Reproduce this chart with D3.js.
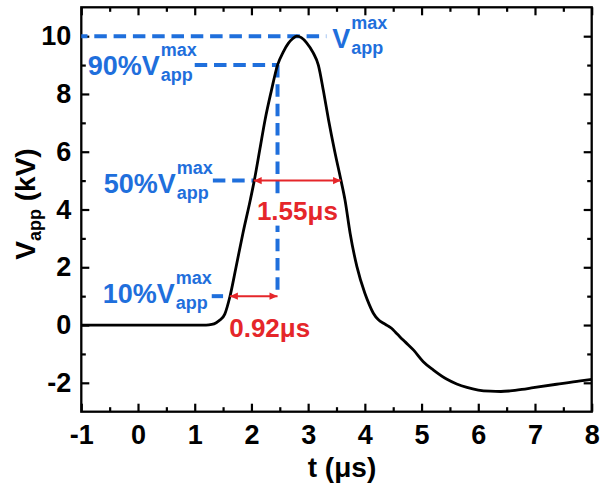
<!DOCTYPE html>
<html><head><meta charset="utf-8">
<script src="https://cdn.jsdelivr.net/npm/d3@7"></script>
<style>
body{margin:0;background:#fff}
svg{display:block}
text{font-family:"Liberation Sans",Arial,sans-serif;font-weight:bold}
</style>
</head><body><svg id="c" width="606" height="486"></svg>
<script>
// ---- data ----
const timeUs = [-1, 0, 1, 1.2, 1.30, 1.38, 1.45, 1.53, 1.62, 1.73, 1.85, 1.98, 2.05, 2.15, 2.24, 2.35, 2.46, 2.56, 2.65, 2.73, 2.80, 2.88, 2.97, 3.09, 3.18, 3.27, 3.36, 3.47, 3.58, 3.65, 3.74, 3.86, 4.00, 4.08, 4.15, 4.24, 4.33, 4.40, 4.47, 4.54, 4.62, 4.72, 4.86, 5.03, 5.21, 5.44, 5.62, 5.80, 6.00, 6.21, 6.40, 6.56, 6.77, 6.97, 7.38, 7.80, 8.0];
const voltageKV = [0, 0, 0, 0, 0.02, 0.08, 0.18, 0.38, 0.98, 2.02, 3.18, 4.33, 5.0, 6.1, 7.1, 8.1, 9.0, 9.45, 9.75, 9.92, 10.0, 9.95, 9.78, 9.42, 9.0, 8.1, 7.1, 6.0, 5.0, 4.33, 3.18, 2.02, 1.10, 0.70, 0.41, 0.18, 0.06, -0.02, -0.11, -0.25, -0.41, -0.6, -0.87, -1.27, -1.56, -1.87, -2.04, -2.16, -2.25, -2.29, -2.30, -2.28, -2.23, -2.17, -2.05, -1.93, -1.88];
const xTickValues = [-1, 0, 1, 2, 3, 4, 5, 6, 7, 8];
const xMinorValues = [-0.5, 0.5, 1.5, 2.5, 3.5, 4.5, 5.5, 6.5, 7.5];
const yTickValues = [-2, 0, 2, 4, 6, 8, 10];
const yMinorValues = [-1, 1, 3, 5, 7, 9];
const vMax = 10;
const levelPrefixes = ["90%", "50%", "10%"];
const levelFractions = [0.9, 0.5, 0.1];
const levelDashStart = [1.0, 1.32, 1.30];   // t where dashed guide begins
const levelDashEnd = [2.46, 2.03, 1.50];     // t where dashed guide ends
const t10 = 1.62, t90 = 2.46, t50a = 2.04, t50b = 3.58;
const spanLabels = ["0.92μs", "1.55μs"];

// ---- setup ----
const svg = d3.select("#c");
const x = d3.scaleLinear().domain([-1, 8]).range([81.3, 591.7]);
const y = d3.scaleLinear().domain([-3, 11]).range([411.7, 7.3]);
const BLUE = "#1f6fdc", RED = "#e5262a";

// frame
svg.append("rect").attr("x", x(-1)).attr("y", y(11))
  .attr("width", x(8) - x(-1)).attr("height", y(-3) - y(11))
  .attr("fill", "none").attr("stroke", "#000").attr("stroke-width", 2.3);

function styleAxis(g, fs) {
  g.select(".domain").remove();
  g.selectAll(".tick line").attr("stroke", "#000").attr("stroke-width", 2.2);
  g.selectAll(".tick text").attr("fill", "#000").style("font-size", fs + "px")
   .style("font-family", "'Liberation Sans',Arial,sans-serif").style("font-weight", "bold");
}
const fmt = d => String(d);
const xb = svg.append("g").attr("transform", `translate(0,${y(-3)})`)
  .call(d3.axisBottom(x).tickValues(xTickValues).tickSize(-8).tickPadding(13).tickFormat(fmt));
styleAxis(xb, 27);
const xbm = svg.append("g").attr("transform", `translate(0,${y(-3)})`)
  .call(d3.axisBottom(x).tickValues(xMinorValues).tickSize(-4.5).tickFormat(""));
styleAxis(xbm, 27);
const xt = svg.append("g").attr("transform", `translate(0,${y(11)})`)
  .call(d3.axisTop(x).tickValues(xTickValues).tickSize(-8).tickFormat(""));
styleAxis(xt, 27);
const xtm = svg.append("g").attr("transform", `translate(0,${y(11)})`)
  .call(d3.axisTop(x).tickValues(xMinorValues).tickSize(-4.5).tickFormat(""));
styleAxis(xtm, 27);
const yl = svg.append("g").attr("transform", `translate(${x(-1)},0)`)
  .call(d3.axisLeft(y).tickValues(yTickValues).tickSize(-8).tickPadding(10).tickFormat(fmt));
styleAxis(yl, 27);
const ylm = svg.append("g").attr("transform", `translate(${x(-1)},0)`)
  .call(d3.axisLeft(y).tickValues(yMinorValues).tickSize(-4.5).tickFormat(""));
styleAxis(ylm, 27);
const yr = svg.append("g").attr("transform", `translate(${x(8)},0)`)
  .call(d3.axisRight(y).tickValues(yTickValues).tickSize(-8).tickFormat(""));
styleAxis(yr, 27);
const yrm = svg.append("g").attr("transform", `translate(${x(8)},0)`)
  .call(d3.axisRight(y).tickValues(yMinorValues).tickSize(-4.5).tickFormat(""));
styleAxis(yrm, 27);

// axis titles
svg.append("text").attr("x", 342).attr("y", 477).attr("text-anchor", "middle")
  .style("font-size", "28px").text("t (μs)");
const yt = svg.append("text").attr("transform", "translate(35,204) rotate(-90)")
  .attr("text-anchor", "middle").style("font-size", "28px");
yt.append("tspan").text("V");
yt.append("tspan").attr("dy", 6).style("font-size", "18px").text("app");
yt.append("tspan").attr("dy", -6).text(" (kV)");

// ---- blue guides ----
const dashes = svg.append("g").attr("stroke", BLUE).attr("stroke-width", 4)
  .attr("stroke-dasharray", "12.5,6.8").attr("fill", "none");
dashes.append("line").attr("x1", x(-1)).attr("x2", x(3.32))
  .attr("y1", y(vMax)).attr("y2", y(vMax)).attr("stroke-dashoffset", 6.3);
levelFractions.forEach((f, i) => {
  dashes.append("line").attr("x1", x(levelDashStart[i])).attr("x2", x(levelDashEnd[i]))
    .attr("y1", y(f * vMax)).attr("y2", y(f * vMax));
});
dashes.append("line").attr("x1", x(t90)).attr("x2", x(t90))
  .attr("y1", y(0.9 * vMax)).attr("y2", y(0.1 * vMax));

// ---- curve ----
const pts = timeUs.map((t, i) => [t, voltageKV[i]]);
svg.append("path").datum(pts)
  .attr("d", d3.line().x(d => x(d[0])).y(d => y(d[1])).curve(d3.curveMonotoneX))
  .attr("fill", "none").attr("stroke", "#000").attr("stroke-width", 2.8)
  .attr("stroke-linejoin", "round");

// ---- blue labels ----
function vLabel(prefix, xStart, base, measureFromEnd) {
  const g = svg.append("g").attr("fill", BLUE);
  const main = g.append("text").attr("y", base).style("font-size", "27px").text(prefix + "V");
  const sup = g.append("text").attr("y", base - 19).style("font-size", "18px").text("max");
  const sub = g.append("text").attr("y", base + 6).style("font-size", "18px").text("app");
  const mw = main.node().getComputedTextLength();
  const aw = sub.node().getComputedTextLength();
  let x0 = measureFromEnd ? xStart - mw - 1 - aw - 4 : xStart;
  main.attr("x", x0);
  sup.attr("x", x0 + mw + 1);
  sub.attr("x", x0 + mw + 1);
}
vLabel("", x(3.32) + 6, y(vMax) + 11.5, false);
const baseOffsets = [10.4, 12.4, 6.5];
levelPrefixes.forEach((p, i) => {
  vLabel(p, x(levelDashStart[i]) + (i === 0 ? 2 : 0), y(levelFractions[i] * vMax) + baseOffsets[i], true);
});

// ---- red arrows ----
svg.append("defs").html(
  `<marker id="ah" viewBox="0 0 10 10" refX="10" refY="5" markerWidth="9" markerHeight="8" markerUnits="userSpaceOnUse" orient="auto-start-reverse"><path d="M0,0.5 L10,5 L0,9.5 Z" fill="${RED}"/></marker>`);
const spans = [[t10, t90, 0.1], [t50a, t50b, 0.5]];
spans.forEach(s => {
  svg.append("line").attr("x1", x(s[0])).attr("x2", x(s[1]))
    .attr("y1", y(s[2] * vMax)).attr("y2", y(s[2] * vMax))
    .attr("stroke", RED).attr("stroke-width", 2)
    .attr("marker-start", "url(#ah)").attr("marker-end", "url(#ah)");
});
function redLabel(txt, cx, base) {
  const t = svg.append("text").attr("x", cx).attr("y", base)
    .attr("text-anchor", "middle").attr("fill", RED).style("font-size", "26px").text(txt);
  const b = t.node().getBBox();
  svg.insert("rect", () => t.node()).attr("x", b.x - 1).attr("y", b.y + 3)
    .attr("width", b.width + 2).attr("height", b.height - 3).attr("fill", "#fff");
}
redLabel(spanLabels[0], x((t10 + t90) / 2) + 16, y(0.1 * vMax) + 41);
redLabel(spanLabels[1], x((t50a + t50b) / 2), y(0.5 * vMax) + 39);
</script>
</body></html>
